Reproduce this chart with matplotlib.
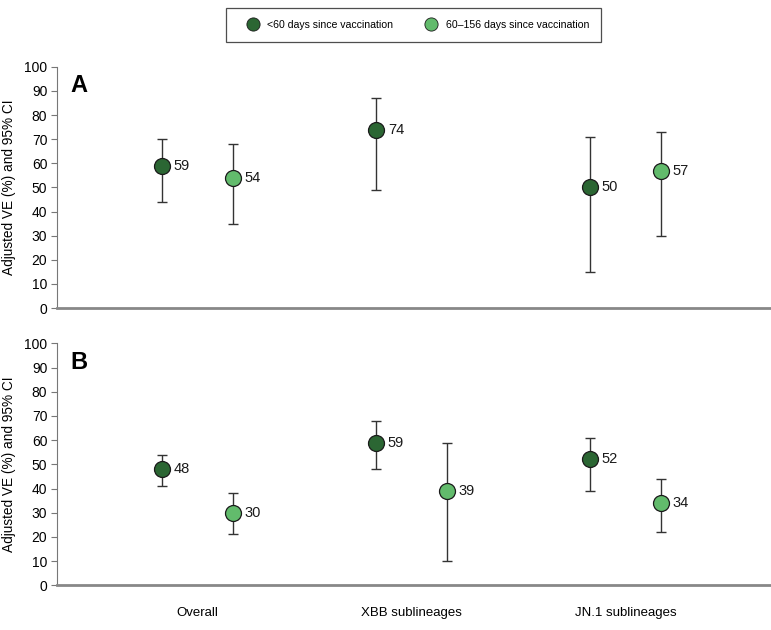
import numpy as np
import matplotlib
matplotlib.use("Agg")
import matplotlib.pyplot as plt
from matplotlib.lines import Line2D

plt.rcParams.update({
    "font.family": ["Liberation Sans", "DejaVu Sans"],
    "font.size": 10,
})

categories = ["Overall", "XBB sublineages", "JN.1 sublineages"]
series = ["<60 days since vaccination", "60\u2013156 days since vaccination"]
colors = ["#2b6633", "#62bb6c"]

# panel A (None = not reported)
a_ve = [[59, 74, 50], [54, None, 57]]
a_lo = [[44, 49, 15], [35, None, 30]]
a_hi = [[70, 87, 71], [68, None, 73]]

# panel B
b_ve = [[48, 59, 52], [30, 39, 34]]
b_lo = [[41, 48, 39], [21, 10, 22]]
b_hi = [[54, 68, 61], [38, 59, 44]]

offsets = [-0.165, 0.165]

fig = plt.figure(figsize=(7.71, 6.3), dpi=100)
axA = fig.add_axes([0.074, 0.511, 0.926, 0.383])
axB = fig.add_axes([0.074, 0.071, 0.926, 0.384])


def panel(ax, ve, lo, hi, letter, show_x):
    x = np.arange(len(categories))
    for s in range(2):
        for i in range(len(categories)):
            v = ve[s][i]
            if v is None:
                continue
            xi = x[i] + offsets[s]
            ax.errorbar(xi, v, yerr=[[v - lo[s][i]], [hi[s][i] - v]],
                        fmt="none", ecolor="#333333", elinewidth=1.0,
                        capsize=3.5, capthick=1.0, zorder=2)
            ax.plot(xi, v, "o", ms=11.5, mfc=colors[s], mec="#1a1a1a",
                    mew=0.9, zorder=3)
            ax.text(xi + 0.055, v, str(v), va="center", ha="left",
                    fontsize=10.5, color="#1a1a1a")
    ax.set_xlim(-0.655, 2.68)
    ax.set_ylim(0, 100)
    ax.set_yticks(range(0, 101, 10))
    ax.spines["top"].set_visible(False)
    ax.spines["right"].set_visible(False)
    ax.spines["left"].set_color("#777777")
    ax.spines["bottom"].set_color("#888888")
    ax.spines["bottom"].set_linewidth(2.0)
    ax.tick_params(axis="y", direction="out", length=4, color="#777777",
                   labelsize=10, pad=3)
    ax.tick_params(axis="x", length=0, labelsize=9.5, pad=16)
    ax.set_xticks(x)
    if show_x:
        ax.set_xticklabels(categories)
    else:
        ax.set_xticklabels([])
    ax.set_ylabel("Adjusted VE (%) and 95% CI", fontsize=9.8, labelpad=6)
    ax.text(0.03, 0.97, letter, transform=ax.transAxes, fontsize=17,
            fontweight="bold", va="top", ha="center")


panel(axA, a_ve, a_lo, a_hi, "A", False)
panel(axB, b_ve, b_lo, b_hi, "B", True)

handles = [Line2D([], [], ls="none", marker="o", ms=9.5, mfc=c,
                  mec="#1a1a1a", mew=0.6) for c in colors]
leg = fig.legend(handles, series, loc="upper left",
                 bbox_to_anchor=(0.2866, 0.995), ncol=2, fontsize=7.6,
                 frameon=True, fancybox=False, edgecolor="#222222",
                 handletextpad=0.0, columnspacing=2.2,
                 borderpad=1.1, handlelength=2.8)
leg.get_frame().set_linewidth(0.9)

fig.savefig("out.png", dpi=100)
